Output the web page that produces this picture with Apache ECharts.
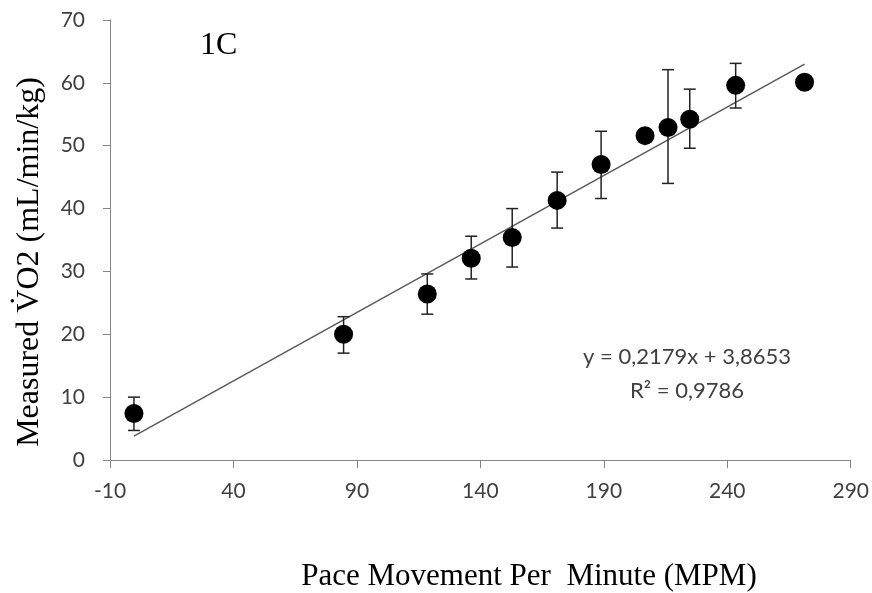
<!DOCTYPE html>
<html>
<head>
<meta charset="utf-8">
<script src="https://cdn.jsdelivr.net/npm/echarts@6/dist/echarts.min.js"></script>
<style>html,body{margin:0;padding:0;background:#fff}#c{width:872px;height:593px}</style>
</head>
<body>
<div id="c"></div>
<script>
// Data
var paceMPM   = [-0.3, 84.6, 118.5, 136.3, 152.9, 171.1, 188.9, 206.7, 216.0, 224.8, 243.4, 271.3];
var vo2Mean   = [7.4, 20.0, 26.4, 32.1, 35.4, 41.3, 47.0, 51.6, 52.9, 54.2, 59.6, 60.1];
var vo2Low    = [4.7, 17.0, 23.2, 28.8, 30.7, 36.9, 41.6, 50.7, 44.0, 49.6, 56.0, 60.1];
var vo2High   = [10.0, 22.8, 29.6, 35.6, 40.0, 45.8, 52.3, 52.5, 62.1, 59.0, 63.1, 60.1];
var xTicks    = [-10, 40, 90, 140, 190, 240, 290];
var yTicks    = [0, 10, 20, 30, 40, 50, 60, 70];
var trendSlope = 0.2179, trendIntercept = 3.8653;
var equationText = 'y = 0,2179x + 3,8653';
var r2Text = 'R\u00B2 = 0,9786';

var points = paceMPM.map(function (x, i) { return [x, vo2Mean[i]]; });
var errs = paceMPM.map(function (x, i) { return [x, vo2Low[i], vo2High[i]]; });
var xFirst = paceMPM[0], xLast = paceMPM[paceMPM.length - 1];
var trend = [[xFirst, trendSlope * xFirst + trendIntercept], [xLast, trendSlope * xLast + trendIntercept]];

var chart = echarts.init(document.getElementById('c'), null, {renderer: 'canvas'});
var labelFont = {fontFamily: 'Lato, "Open Sans", sans-serif', fontSize: 21, color: '#404040'};
chart.setOption({
  animation: false,
  grid: {left: 110, right: 20, top: 20, bottom: 133, containLabel: false},
  xAxis: {
    type: 'value', min: -10, max: 290,
    splitLine: {show: false},
    axisLine: {onZero: false, lineStyle: {color: '#868686', width: 1}},
    axisTick: {show: true, length: 8, lineStyle: {color: '#868686'}, customValues: xTicks},
    axisLabel: Object.assign({margin: 21, customValues: xTicks}, labelFont)
  },
  yAxis: {
    type: 'value', min: 0, max: 70, interval: 10,
    splitLine: {show: false},
    axisLine: {show: true, onZero: false, lineStyle: {color: '#868686', width: 1}},
    axisTick: {show: true, length: 7, lineStyle: {color: '#868686'}, customValues: yTicks},
    axisLabel: Object.assign({margin: 25, customValues: yTicks}, labelFont)
  },
  series: [
    {
      type: 'line', data: trend, symbol: 'none', silent: true,
      lineStyle: {color: '#5a5a5a', width: 1.5}, z: 2
    },
    {
      type: 'custom', data: errs, z: 3,
      renderItem: function (params, api) {
        var x = api.value(0);
        var lo = api.coord([x, api.value(1)]);
        var hi = api.coord([x, api.value(2)]);
        var cap = 6;
        var st = {stroke: '#222', lineWidth: 1.5};
        return {type: 'group', children: [
          {type: 'line', shape: {x1: lo[0], y1: lo[1], x2: hi[0], y2: hi[1]}, style: st},
          {type: 'line', shape: {x1: lo[0] - cap, y1: lo[1], x2: lo[0] + cap, y2: lo[1]}, style: st},
          {type: 'line', shape: {x1: hi[0] - cap, y1: hi[1], x2: hi[0] + cap, y2: hi[1]}, style: st}
        ]};
      }
    },
    {
      type: 'scatter', data: points, symbol: 'circle', symbolSize: 19, z: 4,
      itemStyle: {color: '#000', opacity: 1}
    }
  ],
  graphic: [
    {type: 'text', left: 200, top: 30, style: {text: '1C', font: '32px "Liberation Serif", serif', fill: '#000'}},
    {type: 'text', x: 687, y: 357, style: {text: equationText, font: '22px Lato, "Open Sans", sans-serif', fill: '#404040', align: 'center', verticalAlign: 'middle'}},
    {type: 'text', x: 687, y: 391, style: {text: r2Text, font: '22px Lato, "Open Sans", sans-serif', fill: '#404040', align: 'center', verticalAlign: 'middle'}},
    {type: 'text', x: 529, y: 577, style: {text: 'Pace Movement Per  Minute (MPM)', font: '31px "Liberation Serif", serif', fill: '#000', align: 'center', verticalAlign: 'middle'}},
    {type: 'text', x: 30, y: 262, rotation: Math.PI / 2, style: {text: 'Measured V\u0307O2 (mL/min/kg)', font: '32px "Liberation Serif", serif', fill: '#000', align: 'center', verticalAlign: 'middle'}}
  ]
});
</script>
</body>
</html>
